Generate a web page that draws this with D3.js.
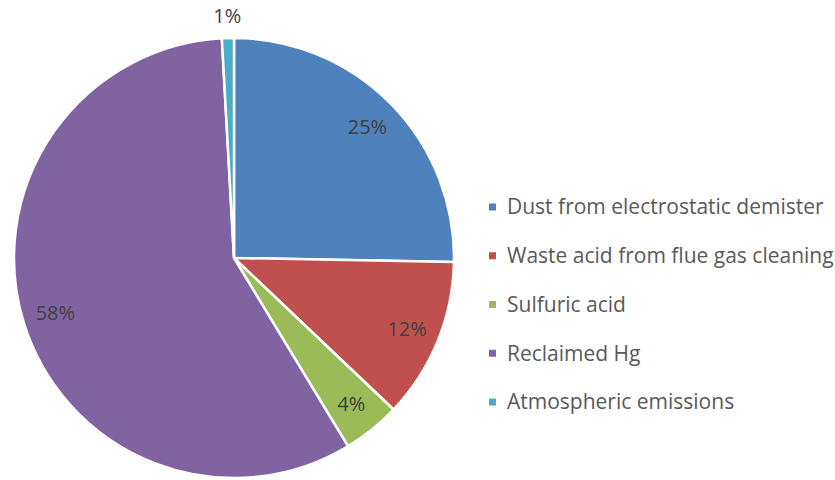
<!DOCTYPE html>
<html>
<head>
<meta charset="utf-8">
<script src="https://cdn.jsdelivr.net/npm/d3@7"></script>
<style>
  body { margin: 0; background: #fff; }
  svg { display: block; font-family: 'Open Sans', sans-serif; }
</style>
</head>
<body>
<div id="chart"></div>
<script>
const categories = [
  'Dust from electrostatic demister',
  'Waste acid from flue gas cleaning',
  'Sulfuric acid',
  'Reclaimed Hg',
  'Atmospheric emissions'
]
const values = [25.3, 11.8, 4.25, 57.8, 0.88]
const labels = ['25%', '12%', '4%', '58%', '1%']
const colors = ['#4F81BD', '#C0504D', '#9BBB59', '#8064A2', '#4BACC6']

const width = 835
const height = 480
const cx = 234
const cy = 258
const radius = 220

const svg = d3
  .select('#chart')
  .append('svg')
  .attr('width', width)
  .attr('height', height)

const colorScale = d3.scaleOrdinal().domain(categories).range(colors)

const pie = d3
  .pie()
  .sort(null)
  .value(d => d.value)

const data = categories.map((c, i) => ({ name: c, value: values[i], label: labels[i] }))
const arcs = pie(data)

const arc = d3.arc().innerRadius(0).outerRadius(radius)
const labelArc = d3.arc().innerRadius(187).outerRadius(187)
const outerArc = d3.arc().innerRadius(242).outerRadius(242)

const g = svg.append('g').attr('transform', `translate(${cx},${cy})`)

g.selectAll('path')
  .data(arcs)
  .enter()
  .append('path')
  .attr('d', arc)
  .attr('fill', d => colorScale(d.data.name))
  .attr('stroke', '#fff')
  .attr('stroke-width', 2.5)
  .attr('stroke-linejoin', 'round')

// small slices get their label outside the pie
g.selectAll('text')
  .data(arcs)
  .enter()
  .append('text')
  .text(d => d.data.label)
  .attr('transform', d => {
    const small = d.endAngle - d.startAngle < 0.2
    const p = small ? outerArc.centroid(d) : labelArc.centroid(d)
    return `translate(${p[0]},${p[1]})`
  })
  .attr('text-anchor', 'middle')
  .attr('dy', '0.35em')
  .attr('fill', '#404040')
  .style('font-size', '20px')

// legend
const legendY = d3.scalePoint().domain(categories).range([207, 402])

const legend = svg
  .append('g')
  .selectAll('g')
  .data(categories)
  .enter()
  .append('g')
  .attr('transform', d => `translate(489,${legendY(d)})`)

legend
  .append('rect')
  .attr('x', 0)
  .attr('y', -3.5)
  .attr('width', 7)
  .attr('height', 7)
  .attr('fill', d => colorScale(d))

legend
  .append('text')
  .text(d => d)
  .attr('x', 18)
  .attr('dy', '0.35em')
  .attr('fill', '#595959')
  .style('font-size', '21px')
</script>
</body>
</html>
